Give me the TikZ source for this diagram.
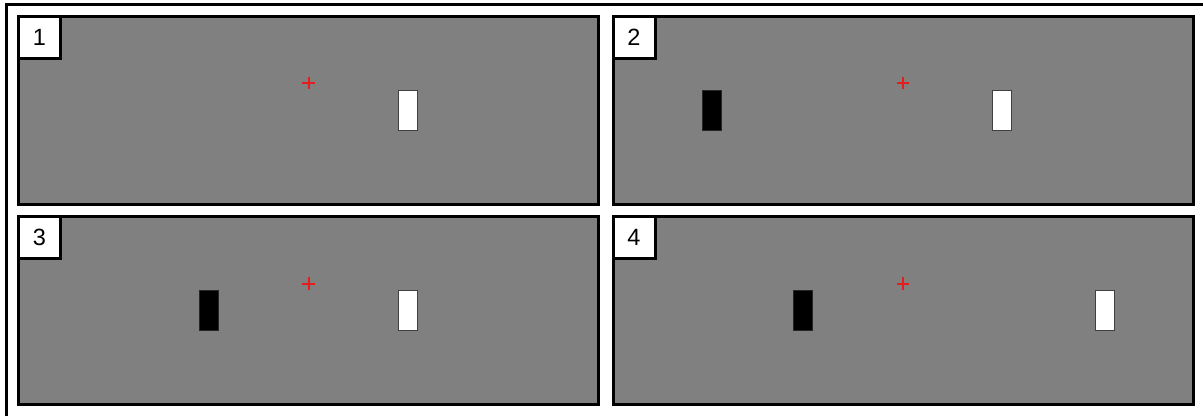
\documentclass[tikz,border=0pt]{standalone}
\usepackage{fontspec}
\setmainfont{Liberation Sans}
\usetikzlibrary{positioning,calc,shapes.misc}
\definecolor{screengray}{RGB}{128,128,128}
\definecolor{fixred}{RGB}{228,30,30}

\begin{document}
\begin{tikzpicture}[
  x=1pt, y=1pt,
  panel/.style={draw, line width=3pt, fill=screengray, inner sep=0pt,
                minimum width=580pt, minimum height=188pt},
  numbox/.style={draw, line width=3pt, fill=white, inner sep=0pt,
                 minimum size=42pt, anchor=north west,
                 font=\fontsize{23.5}{27}\selectfont},
  fixcross/.style={cross out, draw=fixred, line width=2pt, inner sep=0pt,
                   minimum size=6.5pt, rotate=45},
  whitebar/.style={draw=black!75, line width=0.8pt, fill=white, inner sep=0pt,
                   minimum width=19pt, minimum height=40pt},
  blackbar/.style={draw=black!85, line width=0.8pt, fill=black, inner sep=0pt,
                   minimum width=19pt, minimum height=40pt}
]
\useasboundingbox (0,0) rectangle (1203,416);
% outer frame (only top and left edge show)
\draw[line width=3pt] (6,0) |- (1203,411);

% the four screens
\node[panel] (p1) at (308.5,305.5) {};
\node[panel] (p2) at (903,305.5) {};
\node[panel] (p3) at (308.5,105.5) {};
\node[panel] (p4) at (903,105.5) {};

\node[numbox] (n1) at (p1.north west) {1};
\node[numbox] (n2) at (p2.north west) {2};
\node[numbox] (n3) at (p3.north west) {3};
\node[numbox] (n4) at (p4.north west) {4};

% fixation crosses
\node[fixcross] (fix1) at ($(p1.center)+(0,27.5)$) {};
\node[fixcross] (fix2) at ($(p2.center)+(0,27.5)$) {};
\node[fixcross] (fix3) at ($(p3.center)+(0,27)$) {};
\node[fixcross] (fix4) at ($(p4.center)+(0,27)$) {};

% bars
\node[whitebar] (w1) at ($(p1.center)+(99.5,0)$) {};
\node[blackbar] (b2) at ($(p2.center)+(-191.5,0)$) {};
\node[whitebar] (w2) at ($(p2.center)+(99,0)$) {};
\node[blackbar] (b3) at ($(p3.center)+(-99.5,0)$) {};
\node[whitebar] (w3) at ($(p3.center)+(99.5,0)$) {};
\node[blackbar] (b4) at ($(p4.center)+(-100.5,0)$) {};
\node[whitebar] (w4) at ($(p4.center)+(201.5,0)$) {};
\end{tikzpicture}
\end{document}
